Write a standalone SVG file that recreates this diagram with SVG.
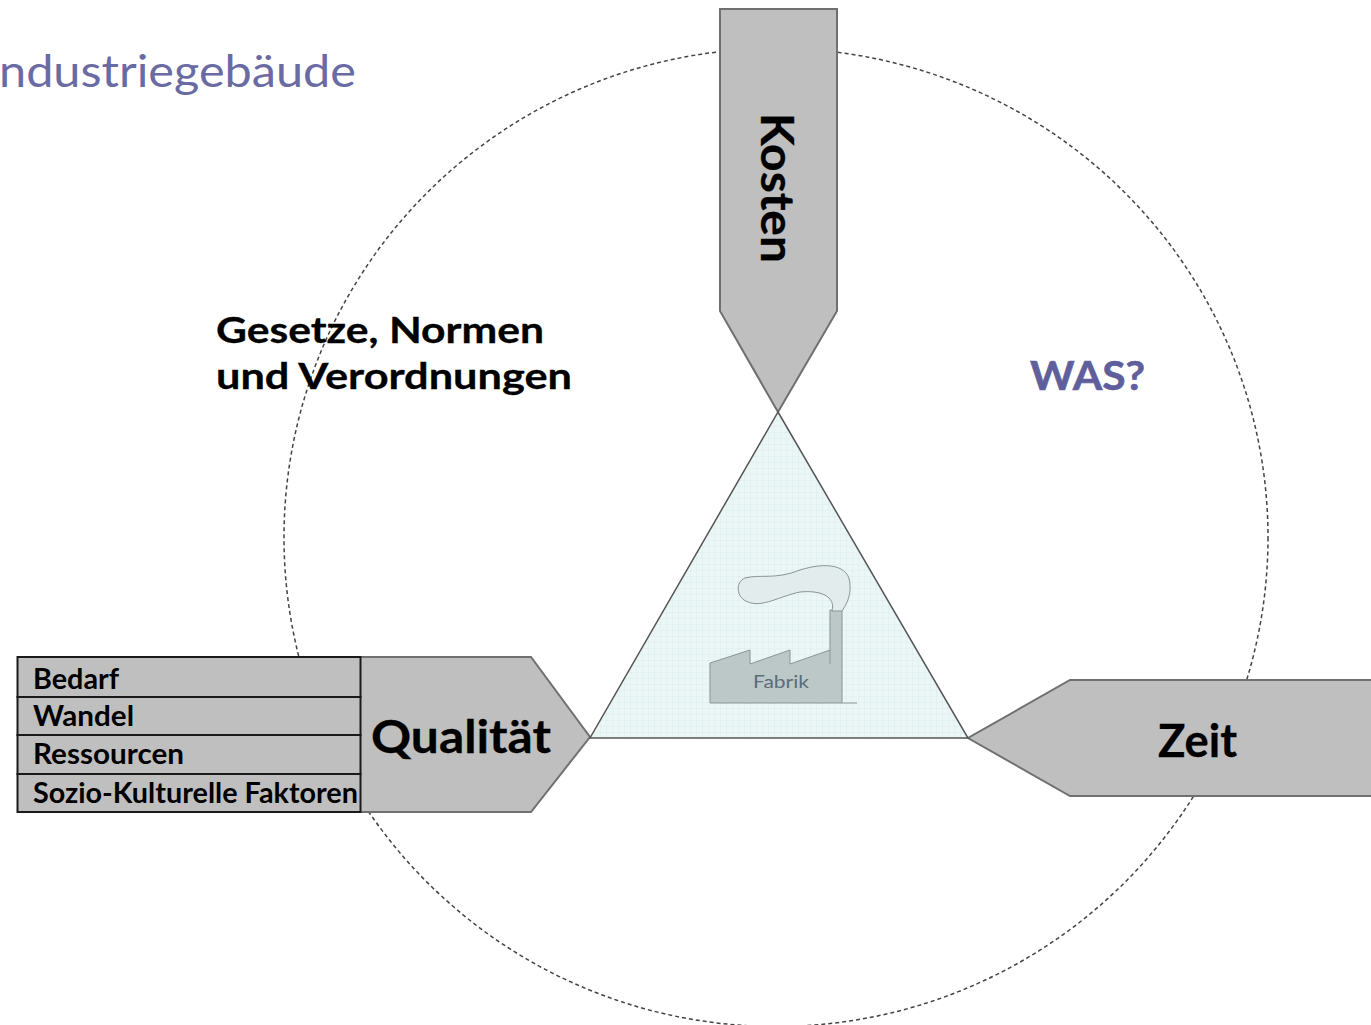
<svg xmlns="http://www.w3.org/2000/svg" width="1371" height="1025" viewBox="0 0 1371 1025">
<defs>
<pattern id="grid" width="6" height="6" patternUnits="userSpaceOnUse"><rect width="6" height="6" fill="#ebf6f6"/><path d="M0 0H6M0 0V6" stroke="#dcecec" stroke-width="1"/></pattern>
</defs>
<style>
text{font-family:"Lato","Liberation Sans",sans-serif;fill:#000}
.b{font-weight:700;stroke:#000;stroke-width:.3}
.arrow{fill:#bfbfbf;stroke:#707070;stroke-width:2}
.cell{fill:#bfbfbf;stroke:#1a1a1a;stroke-width:2}
.item{font-size:28px;font-weight:700}
</style>
<rect width="1371" height="1025" fill="#fff"/>
<g id="circle"><ellipse cx="776" cy="537.500" rx="492" ry="489" fill="none" stroke="#444" stroke-width="1.500" stroke-dasharray="4 3"/></g>
<g id="title"><text x="-1" y="87" font-size="44" style="fill:#6b6ba3" textLength="357" lengthAdjust="spacingAndGlyphs">ndustriegebäude</text></g>
<g id="laws">
<text class="b" x="216" y="343" font-size="37" textLength="328" lengthAdjust="spacingAndGlyphs">Gesetze, Normen</text>
<text class="b" x="216" y="389" font-size="37" textLength="356" lengthAdjust="spacingAndGlyphs">und Verordnungen</text>
</g>
<g id="was"><text x="1030" y="390" font-size="41" font-weight="700" style="fill:#5f5f9c;stroke:#5f5f9c;stroke-width:.6" textLength="115" lengthAdjust="spacingAndGlyphs">WAS?</text></g>
<g id="kosten">
<path class="arrow" d="M720 9H837V311L778 412L720 311Z"/>
<text class="b" transform="translate(761 113) rotate(90)" font-size="45" textLength="150" lengthAdjust="spacingAndGlyphs">Kosten</text>
</g>
<g id="zeit">
<path class="arrow" d="M1373 680H1070L968 738L1070 796H1373Z"/>
<text class="b" x="1158" y="757" font-size="45" textLength="79" lengthAdjust="spacingAndGlyphs">Zeit</text>
</g>
<g id="qualitaet">
<path class="arrow" d="M360 657H531L590 737L531 812H360Z"/>
<text class="b" x="371" y="753" font-size="45" textLength="180" lengthAdjust="spacingAndGlyphs">Qualität</text>
</g>
<g id="list">
<rect class="cell" x="17.500" y="657" width="343" height="40"/>
<rect class="cell" x="17.500" y="697" width="343" height="38"/>
<rect class="cell" x="17.500" y="735" width="343" height="39"/>
<rect class="cell" x="17.500" y="774" width="343" height="38"/>
<text class="item" x="33" y="689" textLength="86" lengthAdjust="spacingAndGlyphs">Bedarf</text>
<text class="item" x="33" y="726" textLength="101" lengthAdjust="spacingAndGlyphs">Wandel</text>
<text class="item" x="33" y="764" textLength="151" lengthAdjust="spacingAndGlyphs">Ressourcen</text>
<text class="item" x="33" y="803" textLength="325" lengthAdjust="spacingAndGlyphs">Sozio-Kulturelle Faktoren</text>
</g>
<g id="fabrik">
<path d="M778 412L968 738H590Z" fill="url(#grid)" stroke="#555" stroke-width="1.500"/>
<path d="M710 663L750 650V664L790 650V664L830 650V610H842V703H710Z" fill="#bcc8c8" stroke="#8a9494" stroke-width="1"/>
<path d="M830 650V664M842 703H857" fill="none" stroke="#8a9494" stroke-width="1"/>
<path d="M832 611C836 596 820 590 800 592C780 596 762 608 748 602C736 598 735 582 745 578C760 574 775 580 800 570C825 562 850 564 850 585C851 598 845 606 842 611Z" fill="#e2ecec" stroke="#8a9494" stroke-width="1"/>
<text x="753" y="688" font-size="18" style="fill:#5c6c78" textLength="56" lengthAdjust="spacingAndGlyphs">Fabrik</text>
</g>
</svg>
